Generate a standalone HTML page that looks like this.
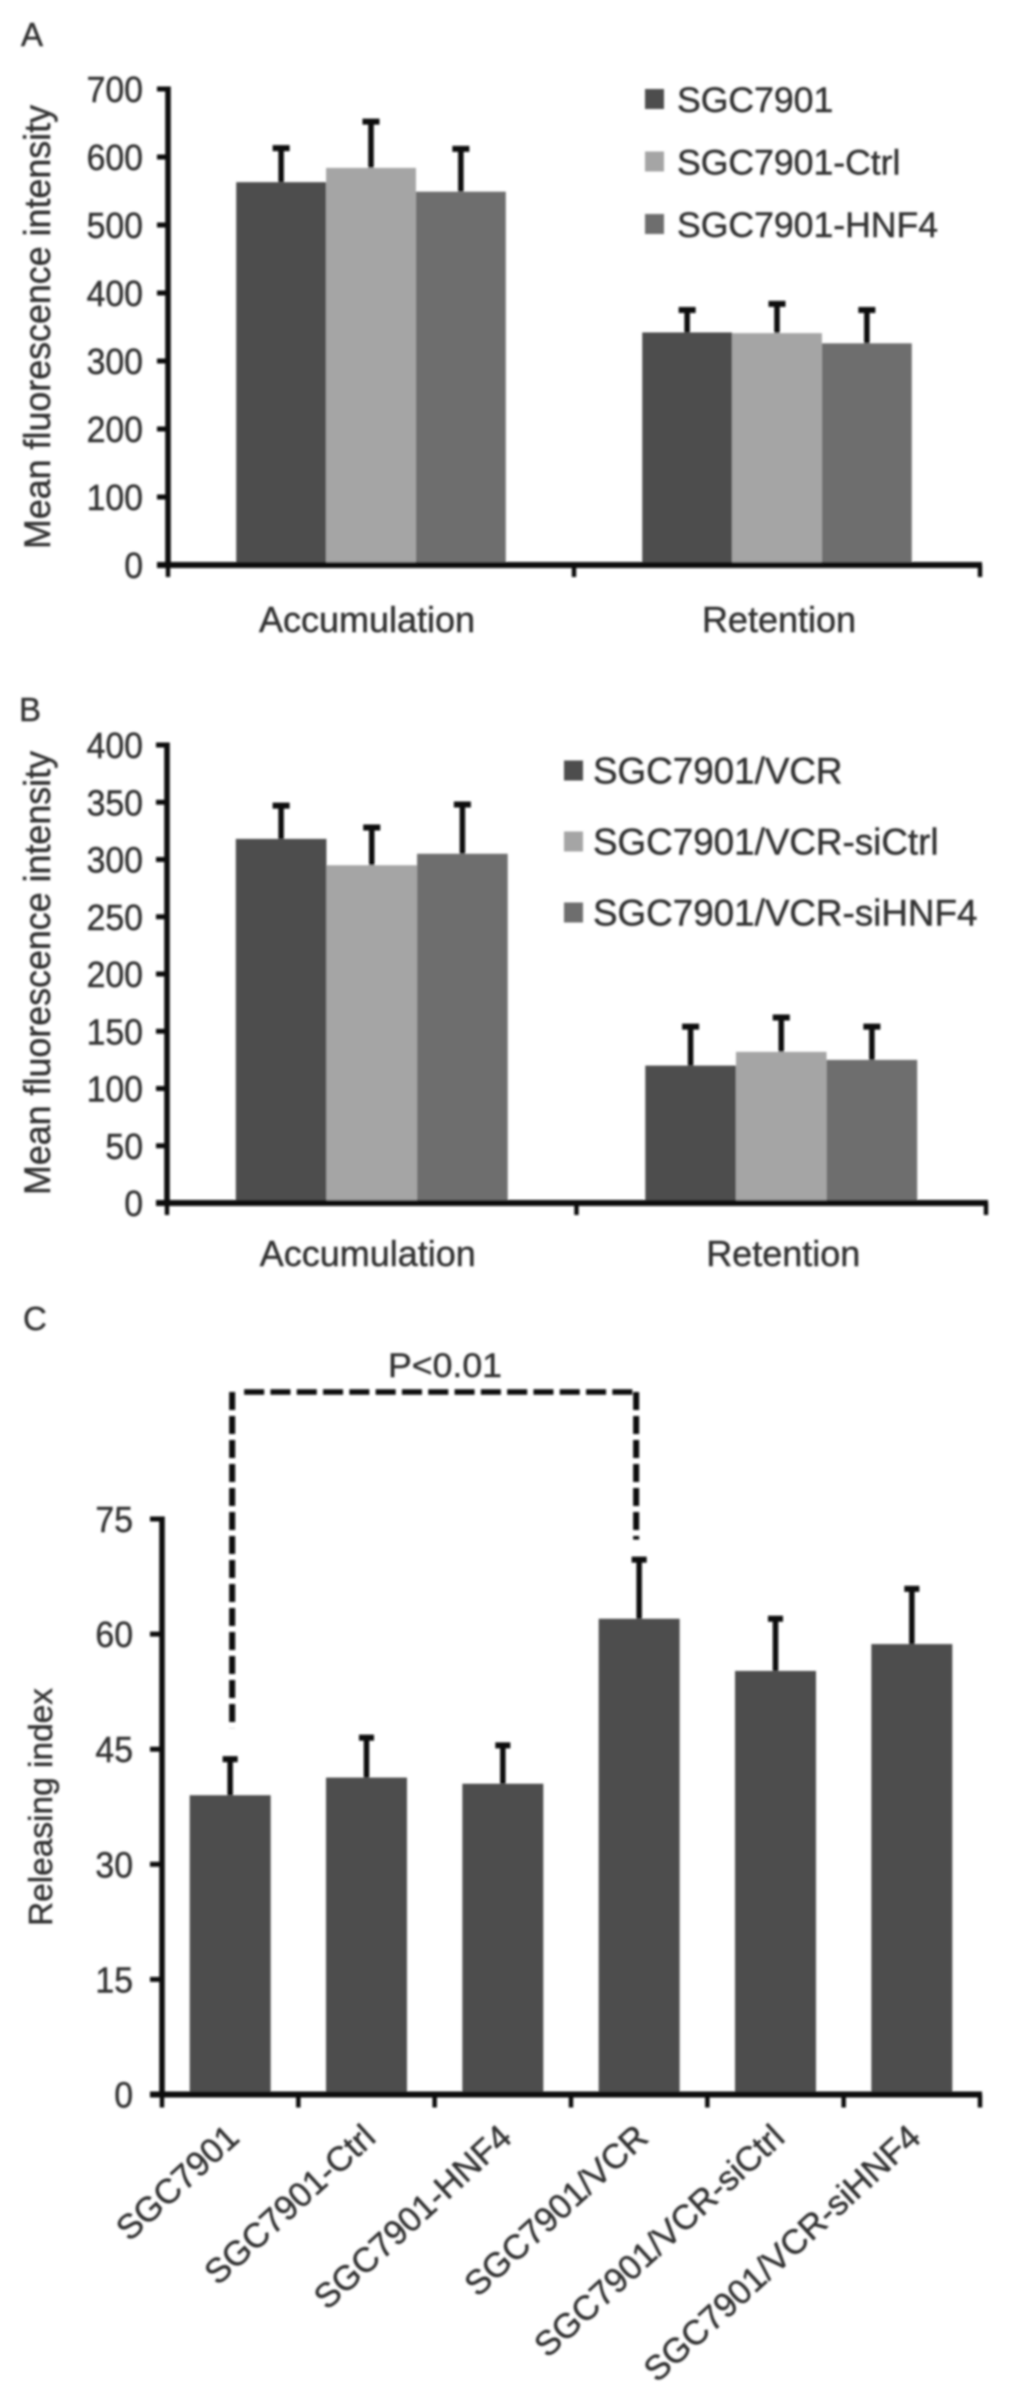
<!DOCTYPE html>
<html lang="en">
<head>
<meta charset="utf-8">
<title>Fluorescence intensity and releasing index</title>
<style>
html,body{margin:0;padding:0;background:#fff;}
svg{display:block;}
text{font-family:"Liberation Sans",sans-serif;fill:#333;stroke:#333;stroke-width:0.45px;}
</style>
</head>
<body>
<svg id="figure" xmlns="http://www.w3.org/2000/svg" width="1011" height="2406" viewBox="0 0 1011 2406">
<defs>
<filter id="soft" x="-5%" y="-5%" width="110%" height="110%"><feGaussianBlur stdDeviation="1.05"/></filter>
<filter id="softer" x="-5%" y="-5%" width="110%" height="110%"><feGaussianBlur stdDeviation="2"/></filter>
</defs>
<rect width="1011" height="2406" fill="#fff"/>
<g id="root" filter="url(#soft)">
<text x="21" y="46" font-size="33">A</text>
<text x="19" y="721" font-size="33">B</text>
<text x="23" y="1330" font-size="33">C</text>
<text transform="translate(50,327) rotate(-90)" text-anchor="middle" font-size="37" textLength="444" lengthAdjust="spacingAndGlyphs">Mean fluorescence intensity</text>
<text transform="translate(50,973) rotate(-90)" text-anchor="middle" font-size="37" textLength="444" lengthAdjust="spacingAndGlyphs">Mean fluorescence intensity</text>
<text transform="translate(52,1807) rotate(-90)" text-anchor="middle" font-size="33" textLength="238" lengthAdjust="spacingAndGlyphs">Releasing index</text>
<text x="445" y="1377" text-anchor="middle" font-size="34" textLength="114" lengthAdjust="spacingAndGlyphs">P&lt;0.01</text>
</g>
</svg>
<script>
const groupLabels = ['Accumulation', 'Retention'];
const ticksA = [0, 100, 200, 300, 400, 500, 600, 700];
const seriesNamesA = ['SGC7901', 'SGC7901-Ctrl', 'SGC7901-HNF4'];
const valuesA1 = [563, 342];
const valuesA2 = [584, 341];
const valuesA3 = [549, 326];
const errorsA1 = [50, 33];
const errorsA2 = [68, 43];
const errorsA3 = [63, 49];

const ticksB = [0, 50, 100, 150, 200, 250, 300, 350, 400];
const seriesNamesB = ['SGC7901/VCR', 'SGC7901/VCR-siCtrl', 'SGC7901/VCR-siHNF4'];
const valuesB1 = [318, 120];
const valuesB2 = [295, 132];
const valuesB3 = [305, 125];
const errorsB1 = [29, 34];
const errorsB2 = [33, 30];
const errorsB3 = [43, 29];

const ticksC = [0, 15, 30, 45, 60, 75];
const categoriesC = ['SGC7901', 'SGC7901-Ctrl', 'SGC7901-HNF4', 'SGC7901/VCR', 'SGC7901/VCR-siCtrl', 'SGC7901/VCR-siHNF4'];
const valuesC = [39, 41.3, 40.5, 62, 55.2, 58.7];
const errorsC = [4.7, 5.2, 5, 7.7, 6.8, 7.2];

const seriesColors = ['#4d4d4d', '#a5a5a5', '#6e6e6e'];
const root = document.getElementById('root');
const NS = 'http://www.w3.org/2000/svg';

function mk(tag, attrs, text) {
  const el = document.createElementNS(NS, tag);
  for (const k in attrs) el.setAttribute(k, attrs[k]);
  if (text !== undefined) el.textContent = text;
  root.appendChild(el);
  return el;
}

function drawAxes(x0, x1, yTop, yBase, tickVals, yScale, labelRight, tickLeft, xTickPositions, tickBottom) {
  tickVals.forEach(function (t) {
    const tick = mk('line', { x1: tickLeft, x2: x0, y1: yScale(t), y2: yScale(t), stroke: '#111', 'stroke-width': 5 });
    
    
    const s = String(t);
    const label = mk('text', { x: labelRight, y: yScale(t) + 13, 'text-anchor': 'end', 'font-size': 36, textLength: s.length * 18.8, lengthAdjust: 'spacingAndGlyphs' }, s);
    
    
  });
  xTickPositions.forEach(function (x) {
    const tick = mk('line', { x1: x, x2: x, y1: yBase, y2: tickBottom, stroke: '#111', 'stroke-width': 4.5 });
    
    
  });
  const yAxis = mk('line', { x1: x0, x2: x0, y1: yTop - 2.5, y2: yBase, stroke: '#0a0a0a', 'stroke-width': 5.5 });
  
  
  const xAxis = mk('line', { x1: tickLeft, x2: x1 + 2, y1: yBase, y2: yBase, stroke: '#0a0a0a', 'stroke-width': 6 });
  
  
}

function drawBar(cx, width, value, error, color, yScale, capWidth) {
  const topY = yScale(error + value);
  const stem = mk('line', { x1: cx, x2: cx, y1: yScale(value), y2: topY, stroke: '#0a0a0a', 'stroke-width': 5.5 });
  
  
  const cap = mk('line', { x1: cx - capWidth / 2, x2: cx + capWidth / 2, y1: topY, y2: topY, stroke: '#0a0a0a', 'stroke-width': 6 });
  
  
  const bar = mk('rect', { x: cx - width / 2, y: yScale(value), width: width, height: yScale(0) - yScale(value), fill: color });
  
  
}

function drawGrouped(cfg) {
  const yScale = function (v) { return cfg.yBase - (v / cfg.yMax) * (cfg.yBase - cfg.yTop); };
  const band = (cfg.x1 - cfg.x0) / groupLabels.length;
  const barW = band * 0.664 / 3;
  const xTicks = [0, 1, 2].map(function (i) { return cfg.x0 + i * band; });
  groupLabels.forEach(function (g, gi) {
    const center = cfg.x0 + band * (gi + 0.5);
    cfg.values.forEach(function (series, si) {
      const cx = center + (si - 1) * barW;
      drawBar(cx, barW, series[gi], cfg.errors[si][gi], seriesColors[si], yScale, 17);
    });
    const label = mk('text', { x: center - (gi === 0 ? 4 : -2), y: cfg.labelY, 'text-anchor': 'middle', 'font-size': 36 }, g);
    
    
  });
  drawAxes(cfg.x0, cfg.x1, cfg.yTop, cfg.yBase, cfg.ticks, yScale, 143, cfg.x0 - 11, xTicks, cfg.yBase + 12);
  cfg.names.forEach(function (name, i) {
    const cy = cfg.legendY + i * cfg.legendStep;
    const swatch = mk('rect', { x: cfg.legendX, y: cy - 10, width: 19, height: 20, fill: seriesColors[i] });
    
    
    const text = mk('text', { x: cfg.legendX + cfg.legendTextGap, y: cy + 13, 'font-size': cfg.legendFont }, name);
    
    
  });
}

drawGrouped({ x0: 168, x1: 980, yTop: 89, yBase: 565, yMax: 700, ticks: ticksA, names: seriesNamesA,
  values: [valuesA1, valuesA2, valuesA3], errors: [errorsA1, errorsA2, errorsA3], labelY: 632,
  legendX: 645, legendY: 99, legendStep: 62.5, legendTextGap: 32, legendFont: 35.6 });
drawGrouped({ x0: 167, x1: 986, yTop: 745, yBase: 1203, yMax: 400, ticks: ticksB, names: seriesNamesB,
  values: [valuesB1, valuesB2, valuesB3], errors: [errorsB1, errorsB2, errorsB3], labelY: 1266,
  legendX: 564, legendY: 770.5, legendStep: 71, legendTextGap: 29, legendFont: 36.8 });

(function drawC() {
  const x0 = 162, x1 = 980, yTop = 1519, yBase = 2094.5, yMax = 75;
  const yScale = function (v) { return yBase - (v / yMax) * (yBase - yTop); };
  const band = (x1 - x0) / categoriesC.length;
  const centerOf = function (i) { return x0 + band * (i + 0.5); };
  const xTicks = [];
  for (let i = 0; i <= categoriesC.length; i++) xTicks.push(x0 + i * band);
  categoriesC.forEach(function (name, i) {
    const cx = centerOf(i);
    drawBar(cx, band * 0.594, valuesC[i], errorsC[i], '#4d4d4d', yScale, 15);
    const ex = cx + 11, ey = 2140;
    const label = mk('text', { transform: 'translate(' + ex + ',' + ey + ') rotate(-42.5)', 'text-anchor': 'end', 'font-size': 34.5 }, name);
    
    
  });
  drawAxes(x0, x1, yTop, yBase, ticksC, yScale, 133, x0 - 12, xTicks, yBase + 13);

  const bracketTop = yScale(75) - 127;
  const leftX = centerOf(0) + 2, rightX = centerOf(3) - 3;
  const leftEnd = yScale(valuesC[0] + errorsC[0]) - 31;
  const rightEnd = yScale(valuesC[3] + errorsC[3]) - 20;
  const shadow = mk('line', { x1: leftX + 10, x2: rightX, y1: bracketTop + 7, y2: bracketTop + 7, stroke: '#b0b0b0', 'stroke-width': 5, 'stroke-dasharray': '20 6', filter: 'url(#softer)' });
  
  
  const top = mk('line', { x1: leftX + 12, x2: rightX, y1: bracketTop, y2: bracketTop, stroke: '#0a0a0a', 'stroke-width': 5.5, 'stroke-dasharray': '20 6.3' });
  
  
  const left = mk('line', { x1: leftX, x2: leftX, y1: bracketTop, y2: leftEnd, stroke: '#0a0a0a', 'stroke-width': 6, 'stroke-dasharray': '18 6' });
  
  
  const right = mk('line', { x1: rightX, x2: rightX, y1: bracketTop, y2: rightEnd, stroke: '#0a0a0a', 'stroke-width': 6, 'stroke-dasharray': '18 6' });
  
  
})();
</script>
</body>
</html>
